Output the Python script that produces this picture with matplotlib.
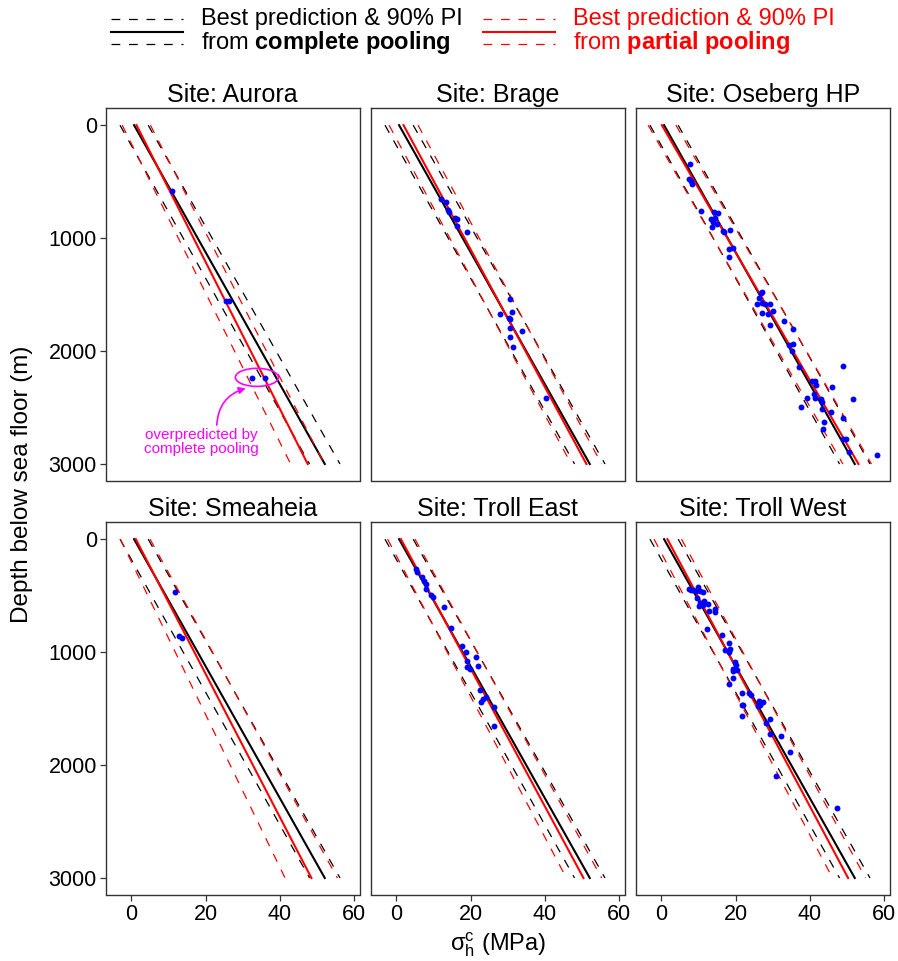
import matplotlib
matplotlib.use('Agg')
import matplotlib.pyplot as plt
from matplotlib.lines import Line2D
from matplotlib.patches import Ellipse

plt.rcParams['font.family'] = ['Liberation Sans', 'DejaVu Sans']
plt.rcParams['mathtext.fontset'] = 'custom'
plt.rcParams['mathtext.rm'] = 'Liberation Sans'
plt.rcParams['mathtext.bf'] = 'Liberation Sans:bold'
plt.rcParams['mathtext.it'] = 'Liberation Sans:italic'

sites = ['Aurora', 'Brage', 'Oseberg HP', 'Smeaheia', 'Troll East', 'Troll West']

# measured minimum horizontal stress (MPa) vs depth below sea floor (m)
aurora_stress = [10.9, 25.5, 26.3, 32.4, 35.9]
aurora_depth = [584, 1557, 1557, 2242, 2242]

brage_stress = [12.05, 13.4, 14.0, 14.2, 15.8, 16.4, 16.4, 19.0, 30.5, 31.1,
                28.0, 30.2, 30.7, 33.7, 30.5, 30.6, 31.3, 40.4]
brage_depth = [658, 681, 752, 770, 826, 832, 891, 947, 1543, 1655,
               1676, 1711, 1717, 1823, 1797, 1879, 1965, 2413]

oseberg_stress = [7.7, 7.55, 7.9, 8.2, 10.7, 14.2, 15.1, 13.4, 14.5, 14.0,
                  14.9, 13.75, 16.45, 16.8, 18.4, 18.3, 19.3, 18.1, 26.7, 27.2,
                  26.15, 25.8, 27.0, 28.0, 29.3, 27.1, 28.8, 30.1, 33.0, 29.2,
                  35.4, 34.3, 35.4, 35.05, 37.0, 40.5, 41.5, 41.7, 41.0, 41.25,
                  39.2, 42.9, 43.4, 46.0, 49.0, 51.7, 37.7, 43.2, 45.6, 48.8,
                  43.7, 43.6, 48.9, 49.6, 50.5, 58.1]
oseberg_depth = [348, 481, 493, 517, 761, 767, 782, 835, 826, 856,
                 876, 906, 935, 947, 932, 1092, 1089, 1163, 1484, 1481,
                 1531, 1581, 1573, 1584, 1581, 1667, 1673, 1646, 1732, 1767,
                 1803, 1947, 1941, 1997, 2142, 2266, 2266, 2298, 2381, 2413,
                 2419, 2428, 2449, 2322, 2133, 2425, 2499, 2514, 2540, 2590,
                 2629, 2694, 2779, 2782, 2897, 2918]

smeaheia_stress = [11.8, 12.8, 13.7]
smeaheia_depth = [468, 855, 872]

troll_east_stress = [5.25, 5.4, 6.8, 7.4, 7.85, 7.95, 9.3, 9.8, 12.9, 14.6,
                     17.7, 18.7, 21.3, 19.0, 18.9, 19.9, 22.0, 22.6, 24.0, 23.4,
                     22.8, 26.3, 26.3]
troll_east_depth = [261, 291, 332, 373, 394, 438, 494, 512, 598, 790,
                    946, 999, 1044, 1076, 1132, 1150, 1120, 1339, 1398, 1415,
                    1439, 1483, 1655]

troll_west_stress = [7.5, 7.85, 8.6, 9.2, 9.9, 10.5, 11.3, 9.7, 10.5, 10.2,
                     11.45, 11.3, 12.6, 12.9, 14.5, 14.4, 12.4, 16.3, 18.1, 18.45,
                     18.2, 17.0, 19.8, 20.1, 19.3, 20.25, 19.4, 19.2, 18.1, 21.6,
                     23.6, 24.0, 21.7, 22.05, 21.7, 26.4, 27.35, 26.5, 26.1, 29.2,
                     28.3, 29.3, 32.2, 34.6, 31.0, 47.4]
troll_west_depth = [438, 453, 447, 456, 427, 462, 471, 521, 562, 589,
                    545, 586, 574, 639, 615, 648, 796, 852, 920, 973,
                    996, 982, 1091, 1111, 1147, 1162, 1170, 1229, 1280, 1359,
                    1359, 1377, 1469, 1472, 1563, 1430, 1445, 1466, 1480, 1593,
                    1628, 1728, 1743, 1888, 2100, 2378]

obs_stress = [aurora_stress, brage_stress, oseberg_stress,
              smeaheia_stress, troll_east_stress, troll_west_stress]
obs_depth = [aurora_depth, brage_depth, oseberg_depth,
             smeaheia_depth, troll_east_depth, troll_west_depth]

# prediction lines, given at depth 0 and 3000 m
pred_depth = [0, 3000]
complete_mid = [0.7, 52.1]
complete_lo = [-3.1, 48.0]
complete_hi = [4.5, 56.2]

partial_mid_top = [1.35, 1.9, 0.1, 1.16, 1.2, 1.6]
partial_mid_bot = [47.5, 51.2, 53.1, 48.5, 50.4, 50.3]
partial_lo_top = [-2.5, -2.0, -3.6, -3.0, -2.4, -2.0]
partial_lo_bot = [42.9, 47.1, 48.9, 41.4, 45.8, 46.1]
partial_hi_top = [5.1, 5.8, 3.9, 5.0, 5.0, 5.4]
partial_hi_bot = [52.0, 55.3, 56.6, 55.5, 55.3, 55.0]

W, H = 898, 961
fig = plt.figure(figsize=(W / 100, H / 100), dpi=100)

col_left = [106, 371, 636]
row_top = [108, 522]
panel_w, panel_h = 253.5, 372.5

dash = (0, (7, 7))
edge = '#333333'

axes = []
for i, site in enumerate(sites):
    r, c = divmod(i, 3)
    ax = fig.add_axes([col_left[c] / W, 1 - (row_top[r] + panel_h) / H,
                       panel_w / W, panel_h / H])
    axes.append(ax)

    ax.plot(complete_lo, pred_depth, color='black', lw=0.9, ls=dash)
    ax.plot(complete_hi, pred_depth, color='black', lw=0.9, ls=dash)
    ax.plot(complete_mid, pred_depth, color='black', lw=1.5)
    ax.plot([partial_lo_top[i], partial_lo_bot[i]], pred_depth, color='red', lw=0.9, ls=dash)
    ax.plot([partial_hi_top[i], partial_hi_bot[i]], pred_depth, color='red', lw=0.9, ls=dash)
    ax.plot([partial_mid_top[i], partial_mid_bot[i]], pred_depth, color='red', lw=1.5)

    ax.scatter(obs_stress[i], obs_depth[i], s=18, color='#0000FF', lw=0, zorder=5)

    ax.set_xlim(-6.87, 61.46)
    ax.set_ylim(3146, -152)
    ax.set_xticks([0, 20, 40, 60])
    ax.set_yticks([0, 1000, 2000, 3000])
    ax.set_title('Site: ' + site, fontsize=18, pad=4)
    for sp in ax.spines.values():
        sp.set_color(edge)
        sp.set_linewidth(1.0)
    ax.tick_params(colors=edge, labelcolor='black', length=4.5, width=0.9,
                   pad=2, labelsize=15.5)
    if r == 0:
        ax.tick_params(bottom=False, labelbottom=False)
    if c > 0:
        ax.tick_params(left=False, labelleft=False)

# annotation of the two deep Aurora measurements
ax = axes[0]
mag = '#FF00FF'
ax.add_patch(Ellipse((33.8, 2233), 11.6, 160, fill=False, ec=mag, lw=1.2, zorder=6))
ax.text(18.9, 2805, 'overpredicted by\ncomplete pooling', color=mag,
        ha='center', va='center', fontsize=11, linespacing=0.95)
ax.annotate('', xy=(30.8, 2330), xytext=(23.0, 2655),
            arrowprops=dict(arrowstyle='-|>', color=mag, lw=1.2,
                            connectionstyle='arc3,rad=-0.35',
                            shrinkA=0, shrinkB=0, mutation_scale=10))

# shared axis labels
fig.text(498 / W, 1 - 945 / H, r'$\mathrm{σ}_\mathrm{h}^\mathrm{c}$ (MPa)',
         ha='center', va='center', fontsize=17)
fig.text(22 / W, 1 - 484 / H, 'Depth below sea floor (m)', rotation=90,
         ha='center', va='center', fontsize=17.5)

# legend drawn in figure pixels
def fx(px):
    return px / W

def fy(py):
    return 1 - py / H

for x0, colr, label in [(111, 'black', r'from $\mathbf{complete\ pooling}$'),
                        (483, 'red', r'from $\mathbf{partial\ pooling}$')]:
    for yy, style, lw in [(19, dash, 0.9), (32, '-', 1.5), (44, dash, 0.9)]:
        fig.add_artist(Line2D([fx(x0), fx(x0 + 72)], [fy(yy), fy(yy)],
                              color=colr, lw=lw, ls=style))
    fig.text(fx(x0 + 90), fy(19), 'Best prediction & 90% PI', color=colr,
             ha='left', va='center', fontsize=17)
    fig.text(fx(x0 + 90), fy(42), label, color=colr,
             ha='left', va='center', fontsize=17)

fig.savefig('out.png', dpi=100)
